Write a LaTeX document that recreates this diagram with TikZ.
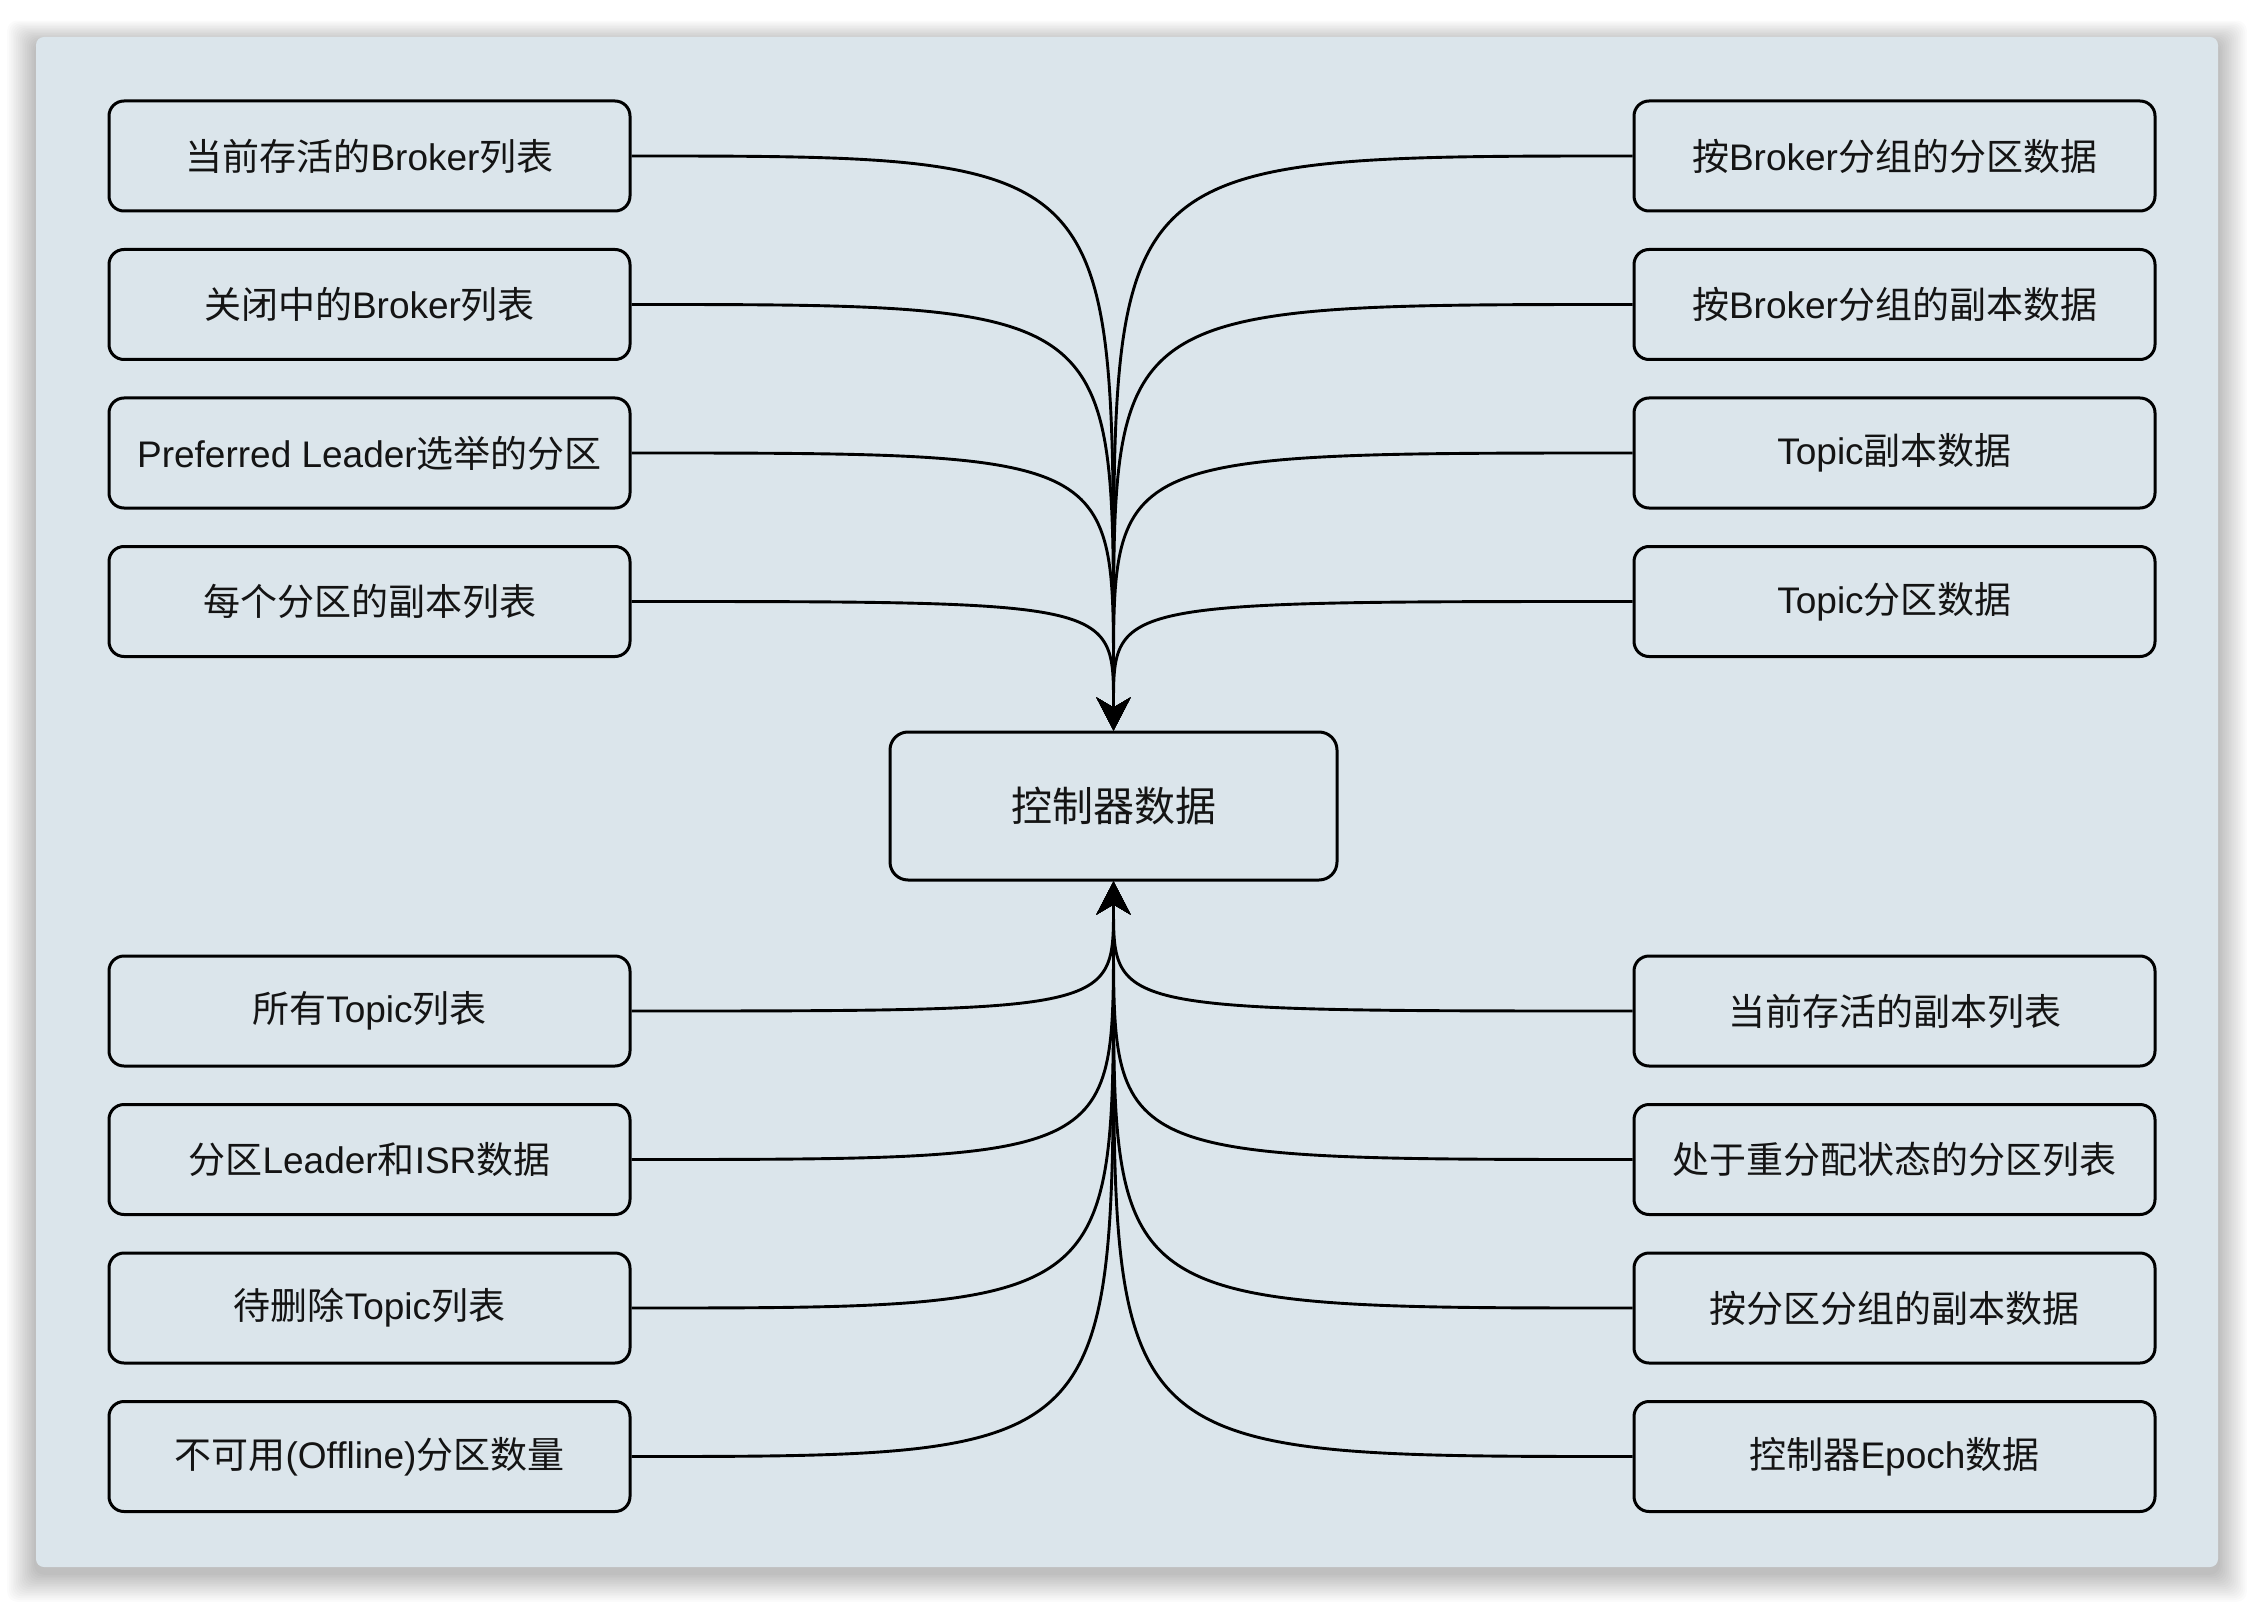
\documentclass[tikz,border=0pt]{standalone}
\usepackage{fontspec}
\setmainfont{Liberation Sans}
\newfontfamily\cjk{Noto Sans CJK SC}
\usetikzlibrary{arrows.meta,calc}
\newcommand{\zh}[1]{{\cjk #1}}
\definecolor{panel}{RGB}{219,229,235}
\begin{document}
\begin{tikzpicture}[x=1pt,y=-1pt,
  box/.style={draw=black, line width=3pt, rounded corners=15pt, fill=panel,
    minimum width=521pt, minimum height=110pt, inner sep=0pt,
    font=\fontsize{37}{41}\selectfont, text=black!92},
  bigbox/.style={box, minimum width=447pt, minimum height=148pt, rounded corners=18pt,
    font=\fontsize{41}{45}\selectfont},
  conn/.style={line width=2.9pt, -{Stealth[length=33pt,width=34pt,inset=10pt]}}]
\useasboundingbox (0,0) rectangle (2254,1602);
\fill[white] (0,0) rectangle (2254,1602);
% shadow
\foreach \i in {1,...,16}{
  \fill[black, opacity=0.016, rounded corners=10pt]
    ({36-1.8*\i},{37-1.4*\i+6}) rectangle ({2218+1.8*\i},{1567+1.8*\i+6});
}
\fill[panel, rounded corners=8pt] (36,37) rectangle (2218,1567);

% center
\node[bigbox] (c) at (1113.5,806) {\zh{控制器数据}};

% left
\node[box] (l1) at (369.5,156) {\zh{当前存活的}Broker\zh{列表}};
\node[box] (l2) at (369.5,304.5) {\zh{关闭中的}Broker\zh{列表}};
\node[box] (l3) at (369.5,453) {Preferred Leader\zh{选举的分区}};
\node[box] (l4) at (369.5,601.5) {\zh{每个分区的副本列表}};
\node[box] (l5) at (369.5,1011) {\zh{所有}Topic\zh{列表}};
\node[box] (l6) at (369.5,1159.5) {\zh{分区}Leader\zh{和}ISR\zh{数据}};
\node[box] (l7) at (369.5,1308) {\zh{待删除}Topic\zh{列表}};
\node[box] (l8) at (369.5,1456.5) {\zh{不可用}(Offline)\zh{分区数量}};

% right
\node[box] (r1) at (1894.5,156) {\zh{按}Broker\zh{分组的分区数据}};
\node[box] (r2) at (1894.5,304.5) {\zh{按}Broker\zh{分组的副本数据}};
\node[box] (r3) at (1894.5,453) {Topic\zh{副本数据}};
\node[box] (r4) at (1894.5,601.5) {Topic\zh{分区数据}};
\node[box] (r5) at (1894.5,1011) {\zh{当前存活的副本列表}};
\node[box] (r6) at (1894.5,1159.5) {\zh{处于重分配状态的分区列表}};
\node[box] (r7) at (1894.5,1308) {\zh{按分区分组的副本数据}};
\node[box] (r8) at (1894.5,1456.5) {\zh{控制器}Epoch\zh{数据}};

% connectors
\foreach \n in {l1,l2,l3,l4}
  \draw[conn] (\n.east) .. controls (c.north |- \n.east) and (c.north |- \n.east)
    .. ($(c.north |- \n.east)!0.8!(c.north)$) -- (c.north);
\foreach \n in {r1,r2,r3,r4}
  \draw[conn] (\n.west) .. controls (c.north |- \n.west) and (c.north |- \n.west)
    .. ($(c.north |- \n.west)!0.8!(c.north)$) -- (c.north);
\foreach \n in {l5,l6,l7,l8}
  \draw[conn] (\n.east) .. controls (c.south |- \n.east) and (c.south |- \n.east)
    .. ($(c.south |- \n.east)!0.8!(c.south)$) -- (c.south);
\foreach \n in {r5,r6,r7,r8}
  \draw[conn] (\n.west) .. controls (c.south |- \n.west) and (c.south |- \n.west)
    .. ($(c.south |- \n.west)!0.8!(c.south)$) -- (c.south);
\end{tikzpicture}
\end{document}
